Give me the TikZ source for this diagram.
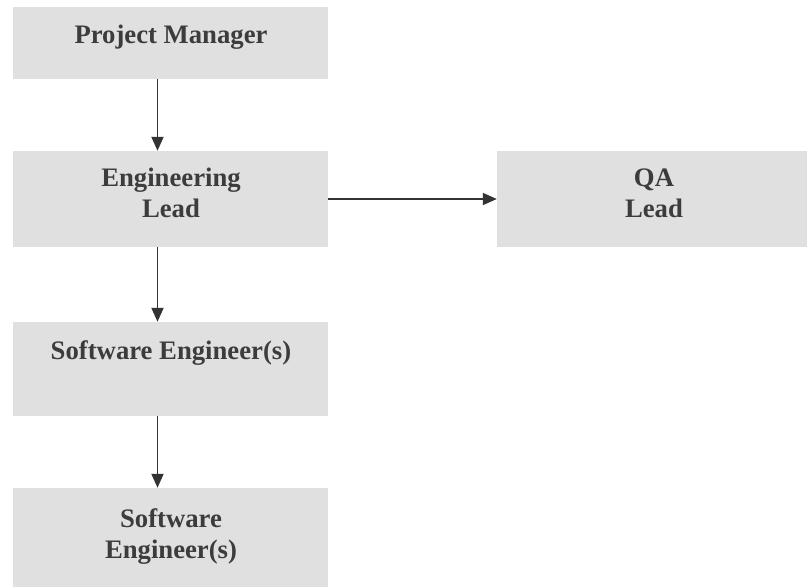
\documentclass[tikz,border=0pt]{standalone}
\usepackage{fontspec}
\setmainfont{Liberation Serif}
\usetikzlibrary{arrows.meta}
\definecolor{boxfill}{HTML}{E0E0E0}
\definecolor{ink}{HTML}{3C3C3C}
\definecolor{lineink}{HTML}{333333}
\tikzset{
  box/.style={fill=boxfill, draw=none, inner sep=0pt},
  lbl/.style={text=ink, font=\bfseries\fontsize{26.7}{31}\selectfont, align=center, anchor=base, inner sep=0pt},
  conn/.style={draw=lineink, line width=1.8pt, -{Triangle[length=14pt,width=12pt]}}
}
\begin{document}
\begin{tikzpicture}[x=1pt,y=-1pt]
\useasboundingbox[fill=white] (0,0) rectangle (807,587);
\node[box, minimum width=315pt, minimum height=72pt] (pm) at (170.5,43) {};
\node[box, minimum width=315pt, minimum height=96pt] (el) at (170.5,199) {};
\node[box, minimum width=310pt, minimum height=96pt] (qa) at (652,199) {};
\node[box, minimum width=315pt, minimum height=94pt] (se1) at (170.5,369) {};
\node[box, minimum width=315pt, minimum height=99pt] (se2) at (170.5,537.5) {};
\node[lbl] (tpm) at (171,43) {Project Manager};
\node[lbl] (tel) at (171,217) {Engineering\\Lead};
\node[lbl] (tqa) at (654,217) {QA\\Lead};
\node[lbl] (tse1) at (171,359) {Software Engineer(s)};
\node[lbl] (tse2) at (171,558) {Software\\Engineer(s)};
\draw[conn] ([xshift=-13pt]pm.south) -- ([xshift=-13pt]el.north);
\draw[conn] ([xshift=-13pt]el.south) -- ([xshift=-13pt]se1.north);
\draw[conn] ([xshift=-13pt]se1.south) -- ([xshift=-13pt]se2.north);
\draw[conn] (el.east) -- (qa.west);
\end{tikzpicture}
\end{document}
